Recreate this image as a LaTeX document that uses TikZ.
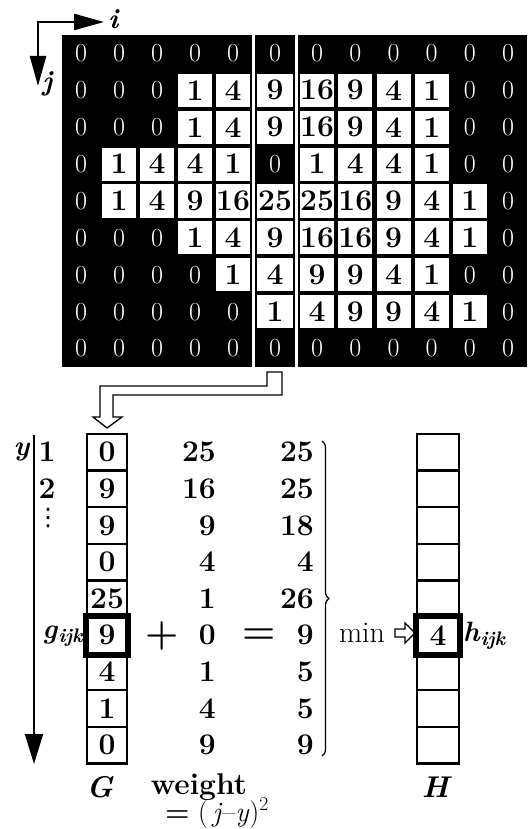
\documentclass[tikz,border=0pt]{standalone}
\usepackage{fix-cm}
\usepackage{fontspec}
\newfontfamily\symfont{DejaVu Sans}
\usetikzlibrary{arrows.meta,decorations.pathreplacing}
\newcommand{\numsize}{\fontsize{30}{34}\selectfont}
\newcommand{\zerosize}{\fontsize{26}{30}\selectfont}
\newcommand{\labsize}{\fontsize{28}{32}\selectfont}
\newcommand{\opsize}{\fontsize{38}{42}\selectfont}
\newcommand{\bi}[1]{\textbf{\textit{#1}}}

\begin{document}
\begin{tikzpicture}[x=1pt,y=-1pt,
	num/.style={font=\numsize\bfseries, inner sep=0pt},
	whitecell/.style={num, fill=white, minimum height=33pt},
	zerocell/.style={font=\zerosize, text=white, inner sep=0pt},
	colbox/.style={num, draw, line width=2.5pt, minimum width=40pt, minimum height=36.6pt},
	lab/.style={font=\labsize, inner sep=0pt},
	op/.style={font=\opsize\bfseries, inner sep=0pt},
	tip/.style={line width=2.5pt},
	hollow/.style={line width=1.3pt}]
	\useasboundingbox (0,0) rectangle (528,829);
	% axes i and j
	\coordinate (orig) at (38,22);
	\coordinate (iend) at (104,22);
	\coordinate (jend) at (38,86);
	\draw[tip, {Triangle[length=30pt,width=16pt]}-{Triangle[length=30pt,width=16pt]}] (jend) -- (orig) -- (iend);
	\node[lab] (ilab) at (114,19) {\bi{i}};
	\node[lab] (jlab) at (48,84) {\bi{j}};
	% black blocks of the map
	\fill (62,35) rectangle (252,367);
	\fill (255,35) rectangle (295,367);
	\fill (298,35) rectangle (527,367);
	\foreach \row [count=\r] in {
		{0,0,0,0,0,0,0,0,0,0,0,0},
		{0,0,0,1,4,9,16,9,4,1,0,0},
		{0,0,0,1,4,9,16,9,4,1,0,0},
		{0,1,4,4,1,0,1,4,4,1,0,0},
		{0,1,4,9,16,25,25,16,9,4,1,0},
		{0,0,0,1,4,9,16,16,9,4,1,0},
		{0,0,0,0,1,4,9,9,4,1,0,0},
		{0,0,0,0,0,1,4,9,9,4,1,0},
		{0,0,0,0,0,0,0,0,0,0,0,0}}{
		\foreach \v [count=\c] in \row {
			\pgfmathsetmacro\cx{\c<6 ? 43+38*\c : (\c==6 ? 275 : 317.1+38.2*(\c-7))}
			\pgfmathsetmacro\cw{\c==6 ? 36 : 34}
			\pgfmathsetmacro\cy{16.5+36.9*\r}
			\ifnum\v=0
				\node[zerocell] (c-\r-\c) at (\cx,\cy) {0};
			\else
				\node[whitecell, minimum width=\cw pt] (c-\r-\c) at (\cx,\cy) {\v};
			\fi
		}
	}
	% hollow arrow down to G
	\draw[hollow] (267,372) -- (282,372) -- (282,395) -- (113,395) -- (113,417) -- (122,417)
		-- (107,428) -- (93,417) -- (100,417) -- (100,386) -- (267,386) -- cycle;
	% column G
	\foreach \v [count=\k] in {0,9,9,0,25,9,4,1,0}
		\node[colbox] (g\k) at (107,{415.7+36.6*\k}) {\v};
	\draw[line width=6pt] (g6.north west) rectangle (g6.south east);
	% y axis
	\coordinate (ytop) at (34,435);
	\coordinate (ybot) at (34,764);
	\draw[line width=2pt, -{Triangle[length=30pt,width=18pt]}] (ytop) -- (ybot);
	\node[lab] (ylab) at (22,452) {\bi{y}};
	\node[num] (y1) at (47,452) {1};
	\node[num] (y2) at (47,489) {2};
	\node[font=\symfont\fontsize{24}{28}\selectfont, inner sep=0pt] (ydots) at (48,518) {⋮};
	\node[lab, anchor=east] (glab) at (84,636) {\bi{g}\textsubscript{\bi{ijk}}};
	% weight and sum
	\foreach \v [count=\k] in {25,16,9,4,1,0,1,4,9}
		\node[num, anchor=east] (w\k) at (216,{415.7+36.6*\k}) {\v};
	\foreach \v [count=\k] in {25,25,18,4,26,9,5,5,9}
		\node[num, anchor=east] (s\k) at (314,{415.7+36.6*\k}) {\v};
	\node[op] (plus) at (162,636) {+};
	\node[op] (eq) at (259,636) {=};
	\coordinate (bt) at (322,441);
	\coordinate (bb) at (322,756);
	\draw[decorate, decoration={brace,amplitude=7pt}, line width=1.2pt] (bt) -- (bb);
	\node[lab, font=\fontsize{30}{34}\selectfont] (minlab) at (362,633) {min};
	\draw[hollow] (395,629) -- (405,629) -- (405,623) -- (415,633) -- (405,643) -- (405,637) -- (395,637) -- cycle;
	% column H
	\foreach \k in {1,...,9}
		\node[colbox, minimum width=42pt] (h\k) at (438,{415.7+36.6*\k}) {};
	\draw[line width=6pt] (h6.north west) rectangle (h6.south east);
	\node[num] (hval) at (h6) {4};
	\node[lab, anchor=west] (hlab) at (463,636) {\bi{h}\textsubscript{\bi{ijk}}};
	% captions
	\node[num] (Glab) at (100,787) {\textit{G}};
	\node[num] (wlab) at (199,787) {weight};
	\node[lab] (wform) at (217,813) {{\bfseries =} (\,\textit{j}--\textit{y})\textsuperscript{2}};
	\node[num] (Hlab) at (437,787) {\textit{H}};
\end{tikzpicture}
\end{document}
